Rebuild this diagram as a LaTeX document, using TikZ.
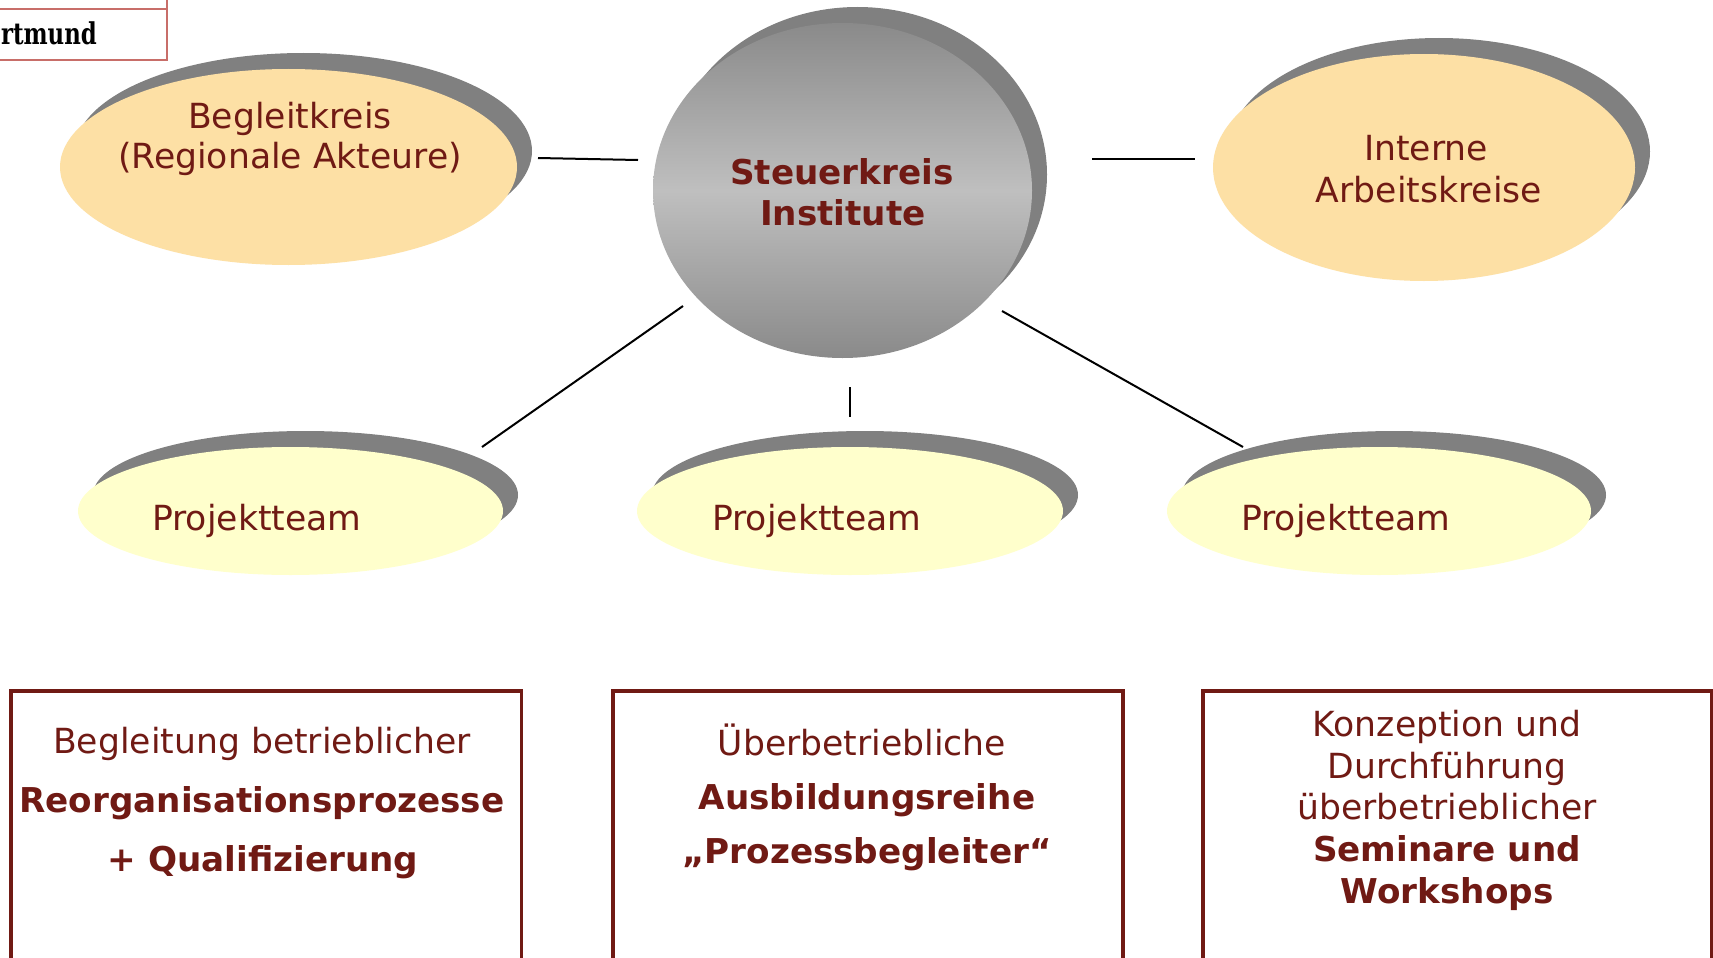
\documentclass[tikz,border=0pt]{standalone}
\usepackage{graphicx}
\usepackage{fontspec}
\setmainfont{DejaVu Sans}
\newfontfamily\slabfont{DejaVu Serif}
\usetikzlibrary{shapes.geometric,shadows}
\definecolor{dred}{RGB}{112,26,20}
\definecolor{peach}{RGB}{253,224,165}
\definecolor{pale}{RGB}{255,255,204}
\definecolor{shgray}{RGB}{128,128,128}
\definecolor{gdark}{RGB}{138,138,138}
\definecolor{glight}{RGB}{191,191,191}
\definecolor{framered}{RGB}{200,110,105}
\begin{document}
\begin{tikzpicture}[x=1pt,y=-1pt,
  lbl/.style={font=\fontsize{34.6}{40}\selectfont,text=dred,anchor=base,inner sep=0pt},
  lblb/.style={lbl,font=\fontsize{34.2}{40}\selectfont\bfseries},
  lblw/.style={lbl,anchor=base west},
  blob/.style={ellipse,inner sep=0pt,draw=none,
    drop shadow={shadow xshift=15pt,shadow yshift=16pt,fill=shgray,opacity=1}},
  conn/.style={draw=black,line width=2pt},
  box/.style={rectangle,draw=dred,line width=3.8pt,inner sep=0pt,anchor=north west},
  frame/.style={draw=framered,line width=2pt}]
\useasboundingbox (0,0) rectangle (1713,958);
\fill[white] (0,0) rectangle (1713,958);

% top-left fragment
\draw[frame] (-5,-5) rectangle (167,60.5);
\draw[frame] (-5,9) -- (167,9);
\node[anchor=base east,inner sep=0pt,font=\slabfont\bfseries\fontsize{30}{32}\selectfont] (dortmund) at (97,45) {\scalebox{0.76}[1]{rtmund}};

% ellipses
\node[blob,fill=peach,minimum width=457pt,minimum height=196pt] (bk) at (288.5,167) {};
\node[blob,fill=peach,minimum width=422pt,minimum height=227pt] (ia) at (1424,167.5) {};
\node[blob,top color=gdark,bottom color=gdark,middle color=glight,minimum width=379pt,minimum height=335pt] (sk) at (842.5,190.5) {};
\node[blob,fill=pale,minimum width=425pt,minimum height=128pt] (p1) at (290.5,511) {};
\node[blob,fill=pale,minimum width=426pt,minimum height=128pt] (p2) at (850,511) {};
\node[blob,fill=pale,minimum width=424pt,minimum height=128pt] (p3) at (1379,511) {};

% ellipse texts
\node[lbl] (tbk1) at (290,128) {Begleitkreis};
\node[lbl] (tbk2) at (290,168) {(Regionale Akteure)};
\node[lbl] (tia1) at (1426,160) {Interne};
\node[lbl] (tia2) at (1429,202) {Arbeitskreise};
\node[lblb] (tsk1) at (842,184) {Steuerkreis};
\node[lblb] (tsk2) at (843,225) {Institute};
\node[lblw] (tp1) at (152,530) {Projektteam};
\node[lblw] (tp2) at (712,530) {Projektteam};
\node[lblw] (tp3) at (1241,530) {Projektteam};

% connectors
\coordinate (c1a) at (538,158); \coordinate (c1b) at (638,160);
\coordinate (c2a) at (1092,159); \coordinate (c2b) at (1195,159);
\coordinate (c3a) at (683,306); \coordinate (c3b) at (482,447);
\coordinate (c4a) at (850,387); \coordinate (c4b) at (850,417);
\coordinate (c5a) at (1002,311); \coordinate (c5b) at (1243,447);
\draw[conn] (c1a) -- (c1b);
\draw[conn] (c2a) -- (c2b);
\draw[conn] (c3a) -- (c3b);
\draw[conn] (c4a) -- (c4b);
\draw[conn] (c5a) -- (c5b);

% boxes
\node[box,minimum width=510.5pt,minimum height=320pt] (b1) at (9,688.7) {};
\node[box,minimum width=510pt,minimum height=320pt] (b2) at (611,688.7) {};
\node[box,minimum width=509pt,minimum height=320pt] (b3) at (1201,688.7) {};

\node[lbl] (b1t1) at (262,753) {Begleitung betrieblicher};
\node[lblb] (b1t2) at (262,812) {Reorganisationsprozesse};
\node[lblb] (b1t3) at (263,871) {+ Qualifizierung};

\node[lbl] (b2t1) at (862,755) {Überbetriebliche};
\node[lblb] (b2t2) at (867,809) {Ausbildungsreihe};
\node[lblb] (b2t3) at (867,863) {„Prozessbegleiter“};

\node[lbl] (b3t1) at (1447,736) {Konzeption und};
\node[lbl] (b3t2) at (1447,778) {Durchführung};
\node[lbl] (b3t3) at (1447,819) {überbetrieblicher};
\node[lblb] (b3t4) at (1447,861) {Seminare und};
\node[lblb] (b3t5) at (1447,903) {Workshops};
\end{tikzpicture}
\end{document}
